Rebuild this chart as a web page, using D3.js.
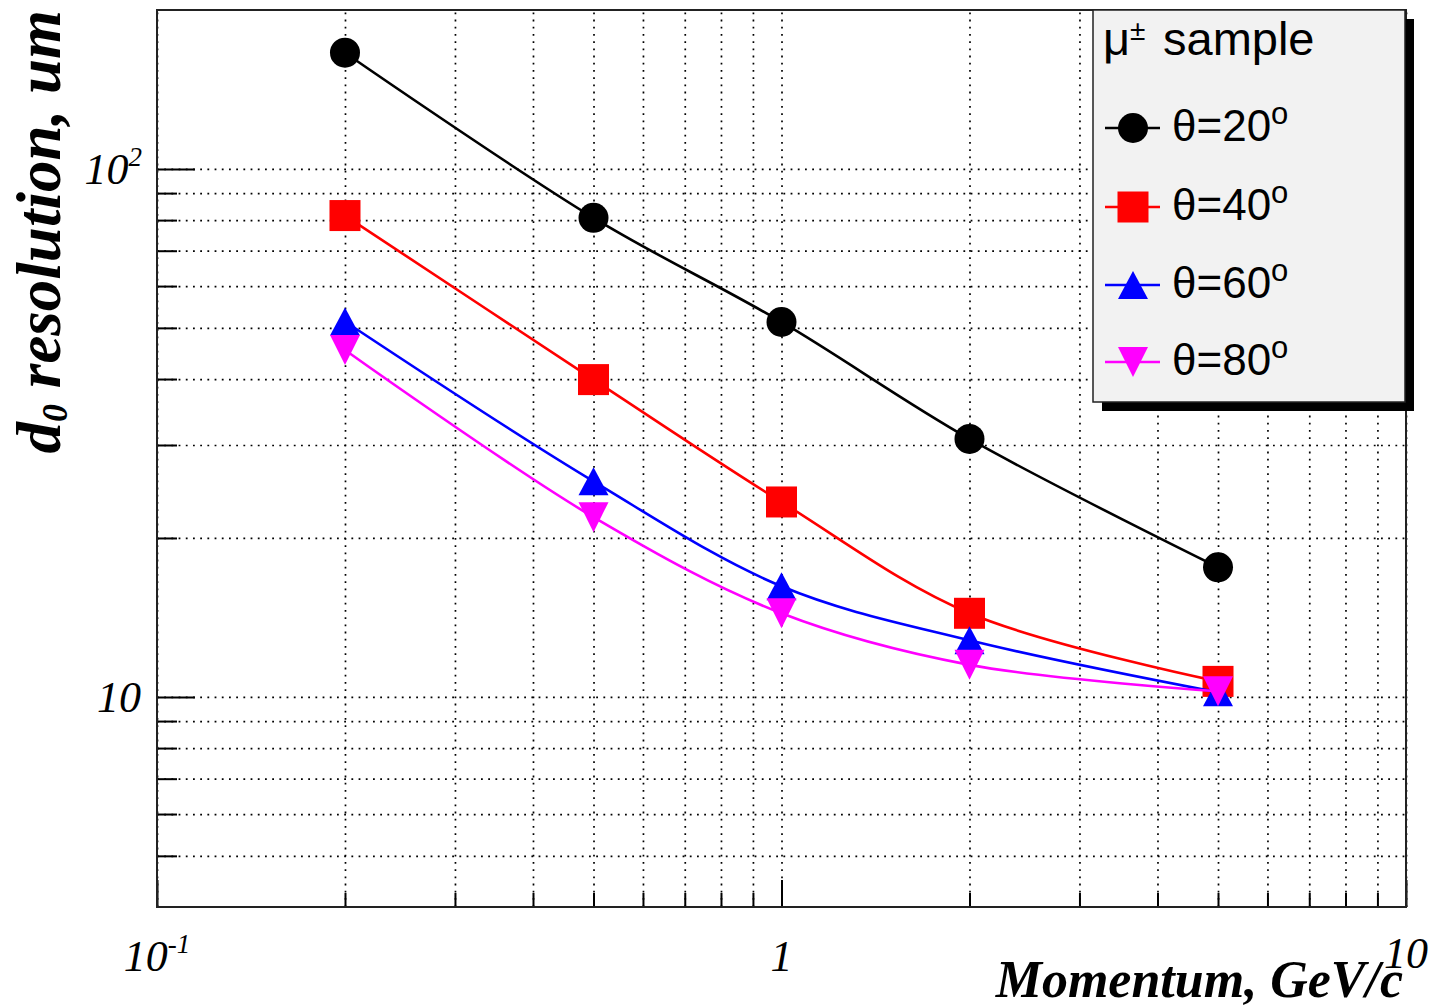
<!DOCTYPE html>
<html>
<head>
<meta charset="utf-8">
<title>d0 resolution vs momentum</title>
<style>
  body { margin: 0; background: #fff; }
  svg { display: block; }
  .tick text { display: none; }
  .domain { display: none; }
</style>
</head>
<body>
<svg id="chart" width="1441" height="1007"></svg>
<script src="https://cdn.jsdelivr.net/npm/d3@7"></script>
<script>
// momentum points, GeV/c
const momentum = [0.2, 0.5, 1, 2, 5];
// d0 resolution (um) for each polar angle
const theta20 = [166, 80.8, 51.3, 30.8, 17.6];
const theta40 = [81.6, 39.9, 23.4, 14.4, 10.7];
const theta60 = [51.4, 25.6, 16.2, 12.8, 10.2];
const theta80 = [45.4, 21.9, 14.4, 11.5, 10.25];

const seriesNames = ["20", "40", "60", "80"];
const seriesColors = ["#000000", "#ff0000", "#0000ff", "#ff00ff"];
const seriesMarkers = ["circle", "square", "triUp", "triDown"];

const xMajor = [0.1, 1, 10];
const xMinor = [0.2, 0.3, 0.4, 0.5, 0.6, 0.7, 0.8, 0.9, 2, 3, 4, 5, 6, 7, 8, 9];
const yMajor = [10, 100];
const yMinor = [5, 6, 7, 8, 9, 20, 30, 40, 50, 60, 70, 80, 90];

const fLeft = 157, fRight = 1406, fTop = 10, fBottom = 907;

const x = d3.scaleLog().domain([0.1, 10]).range([fLeft, fRight]);
const y = d3.scaleLog().domain([4, 200]).range([fBottom, fTop]);

const svg = d3.select('#chart');
const serif = "'Liberation Serif', 'Times New Roman', serif";
const sans = "'Liberation Sans', Arial, Helvetica, sans-serif";

// grid (dotted, at every tick)
svg.append('g').attr('class', 'grid')
    .attr('transform', `translate(0,${fBottom})`)
    .call(d3.axisBottom(x).tickValues(xMajor.concat(xMinor)).tickSize(-(fBottom - fTop)).tickFormat(''));
svg.append('g').attr('class', 'grid')
    .attr('transform', `translate(${fLeft},0)`)
    .call(d3.axisLeft(y).tickValues(yMajor.concat(yMinor)).tickSize(-(fRight - fLeft)).tickFormat(''));
svg.selectAll('.grid .tick line')
    .attr('stroke', '#000')
    .attr('stroke-width', 1.7)
    .attr('stroke-dasharray', '1.8,5.4');

// inward ticks
function ticks(axis, vals, len, tr) {
    svg.append('g').attr('class', 'solid').attr('transform', tr)
        .call(axis.tickValues(vals).tickSize(-len).tickFormat(''));
}
ticks(d3.axisBottom(x), xMajor, 27, `translate(0,${fBottom})`);
ticks(d3.axisBottom(x), xMinor, 14, `translate(0,${fBottom})`);
ticks(d3.axisLeft(y), yMajor, 38, `translate(${fLeft},0)`);
ticks(d3.axisLeft(y), yMinor, 20, `translate(${fLeft},0)`);
svg.selectAll('.solid .tick line').attr('stroke', '#000').attr('stroke-width', 2);

// frame
svg.append('rect')
    .attr('x', fLeft).attr('y', fTop)
    .attr('width', fRight - fLeft).attr('height', fBottom - fTop)
    .attr('fill', 'none').attr('stroke', '#222').attr('stroke-width', 2);

// markers
function marker(g, type, cx, cy, color) {
    if (type === 'circle') {
        g.append('circle').attr('cx', cx).attr('cy', cy).attr('r', 15).attr('fill', color);
    } else if (type === 'square') {
        g.append('rect').attr('x', cx - 15.5).attr('y', cy - 15.5).attr('width', 31).attr('height', 31).attr('fill', color);
    } else if (type === 'triUp') {
        g.append('path').attr('d', `M${cx},${cy - 14}L${cx + 15},${cy + 14}L${cx - 15},${cy + 14}Z`).attr('fill', color);
    } else {
        g.append('path').attr('d', `M${cx - 15},${cy - 15}L${cx + 15},${cy - 15}L${cx},${cy + 15}Z`).attr('fill', color);
    }
}

const allSeries = [theta20, theta40, theta60, theta80];
const line = d3.line()
    .x(d => x(d[0]))
    .y(d => y(d[1]))
    .curve(d3.curveCatmullRom.alpha(0.5));

allSeries.forEach((vals, i) => {
    const pts = momentum.map((p, j) => [p, vals[j]]);
    const g = svg.append('g');
    g.append('path')
        .attr('d', line(pts))
        .attr('fill', 'none')
        .attr('stroke', seriesColors[i])
        .attr('stroke-width', 2.6);
    pts.forEach(d => marker(g, seriesMarkers[i], x(d[0]), y(d[1]), seriesColors[i]));
});

// tick labels
const lab = svg.append('g')
    .attr('font-family', serif)
    .attr('font-style', 'italic')
    .attr('font-size', 44)
    .attr('fill', '#000');

const y100 = lab.append('text').attr('x', fLeft - 15).attr('y', y(100) + 15).attr('text-anchor', 'end');
y100.append('tspan').text('10');
y100.append('tspan').attr('font-size', 27).attr('dy', -18).text('2');

lab.append('text').attr('x', fLeft - 16).attr('y', y(10) + 15).attr('text-anchor', 'end').text('10');

const x01 = lab.append('text').attr('x', x(0.1)).attr('y', 971).attr('text-anchor', 'middle');
x01.append('tspan').text('10');
x01.append('tspan').attr('font-size', 27).attr('dy', -18).text('-1');

lab.append('text').attr('x', x(1)).attr('y', 971).attr('text-anchor', 'middle').text('1');
lab.append('text').attr('x', x(10)).attr('y', 968).attr('text-anchor', 'middle').text('10');

// axis titles
svg.append('text')
    .attr('x', 1403).attr('y', 997)
    .attr('text-anchor', 'end')
    .attr('font-family', serif).attr('font-style', 'italic').attr('font-weight', 'bold')
    .attr('font-size', 52)
    .text('Momentum, GeV/c');

const yt = svg.append('text')
    .attr('transform', `translate(60,${fTop}) rotate(-90)`)
    .attr('text-anchor', 'end')
    .attr('font-family', serif).attr('font-style', 'italic').attr('font-weight', 'bold')
    .attr('font-size', 63);
yt.append('tspan').text('d');
yt.append('tspan').attr('font-size', 36).attr('dy', 7).text('0');
yt.append('tspan').attr('dy', -7).text(' resolution, um');

// legend
const lg = svg.append('g');
const lx = 1093, ly = 10, lw = 312, lh = 392;
lg.append('rect').attr('x', lx + 9).attr('y', ly + 9).attr('width', lw).attr('height', lh).attr('fill', '#000');
lg.append('rect').attr('x', lx).attr('y', ly).attr('width', lw).attr('height', lh)
    .attr('fill', '#f2f2f2').attr('stroke', '#222').attr('stroke-width', 1.5);

const head = lg.append('text').attr('x', 1103).attr('y', 55)
    .attr('font-family', sans).attr('font-size', 47).attr('fill', '#000');
head.append('tspan').text('μ');
head.append('tspan').attr('font-size', 28).attr('dy', -15).text('±');
head.append('tspan').attr('dy', 15).attr('x', 1163).text('sample');

const rowY = [128, 207, 285, 362];
seriesNames.forEach((n, i) => {
    const cy = rowY[i];
    lg.append('line').attr('x1', 1105).attr('x2', 1160).attr('y1', cy).attr('y2', cy)
        .attr('stroke', seriesColors[i]).attr('stroke-width', 2.6);
    marker(lg, seriesMarkers[i], 1133, cy, seriesColors[i]);
    const t = lg.append('text').attr('x', 1172).attr('y', cy + 13)
        .attr('font-family', sans).attr('font-size', 44).attr('fill', '#000');
    t.append('tspan').text('θ=' + n);
    t.append('tspan').attr('font-size', 31).attr('dy', -17).text('o');
});
</script>
</body>
</html>
